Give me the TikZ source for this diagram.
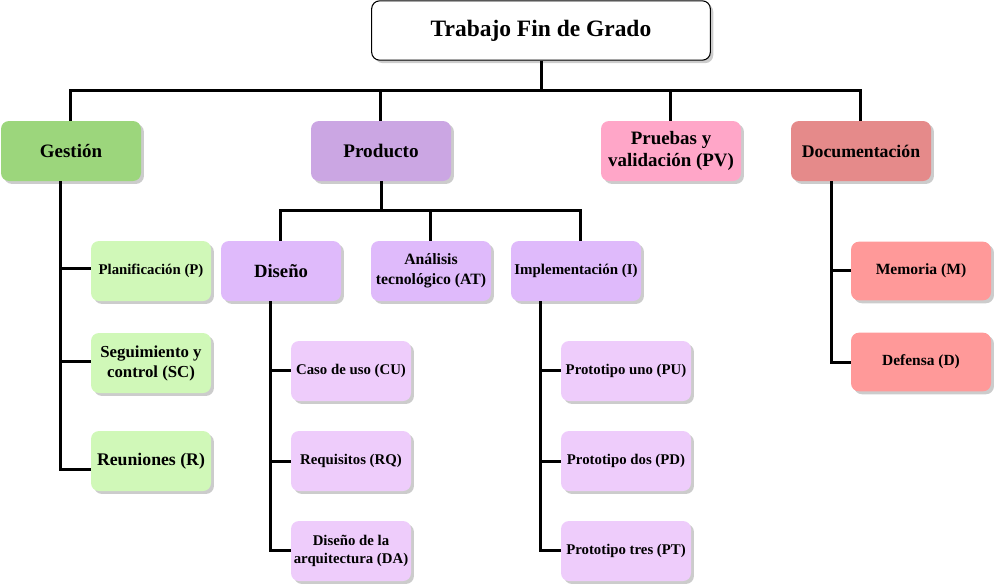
\documentclass[tikz,border=0pt]{standalone}
\usepackage{fontspec}
\setmainfont{Liberation Serif}
\usetikzlibrary{shadows}
\definecolor{cgest}{RGB}{156,214,124}
\definecolor{cprod}{RGB}{203,166,227}
\definecolor{cprue}{RGB}{255,166,200}
\definecolor{cdoc}{RGB}{229,138,138}
\definecolor{cgch}{RGB}{208,248,184}
\definecolor{cpch}{RGB}{223,186,251}
\definecolor{cpgc}{RGB}{238,204,251}
\definecolor{cdch}{RGB}{255,153,153}
\tikzset{
  box/.style={rectangle, rounded corners=6pt, draw=none, align=center,
    inner sep=1pt,
    drop shadow={shadow xshift=2.2pt, shadow yshift=-2.2pt, fill=black!20, opacity=1}},
  fs/.style 2 args={font={\bfseries\fontsize{#1}{#2}\selectfont}},
  lvla/.style={box, minimum width=105pt, minimum height=45pt},
  lvlb/.style={box, minimum width=90pt, minimum height=45pt},
  lvlc/.style={box, minimum width=97.5pt, minimum height=45pt},
  lvld/.style={box, minimum width=105pt, minimum height=44pt},
  conn/.style={draw=black, line width=2.25pt},
}
\begin{document}
\begin{tikzpicture}[x=0.75pt, y=-0.75pt]
\useasboundingbox (0,0) rectangle (994,585);
% root
\node[box, draw=black, line width=0.8pt, fill=white, minimum width=254pt, minimum height=44.5pt, fs={17.6}{20}]
  (root) at (541,30.5) {Trabajo Fin de Grado};
% level 1
\node[lvla, fill=cgest, fs={14.2}{17}] (gest) at (71,151) {Gestión};
\node[lvla, fill=cprod, fs={14.4}{17}] (prod) at (381,151) {Producto};
\node[lvla, fill=cprue, fs={14.2}{17}] (prue) at (671,151) {Pruebas y\\validación (PV)};
\node[lvla, fill=cdoc, fs={13.3}{16}] (doc) at (861,151) {Documentación};
% Gestión children
\node[lvlb, fill=cgch, fs={11.1}{13.5}] (plan) at (151,271) {Planificación (P)};
\node[lvlb, fill=cgch, fs={12.6}{15}] (segu) at (151,363) {Seguimiento y\\control (SC)};
\node[lvlb, fill=cgch, fs={13.3}{16}] (reun) at (151,461) {Reuniones (R)};
% Producto children
\node[lvlb, fill=cpch, fs={14}{17}] (dise) at (281,271) {Diseño};
\node[lvlb, fill=cpch, fs={11.8}{15}] (anal) at (431,271) {Análisis\\tecnológico (AT)};
\node[lvlc, fill=cpch, fs={11.2}{13.5}] (impl) at (576,271) {Implementación (I)};
% Diseño children
\node[lvlb, fill=cpgc, fs={11.1}{13.5}] (caso) at (351,371) {Caso de uso (CU)};
\node[lvlb, fill=cpgc, fs={11.1}{13.5}] (requ) at (351,461) {Requisitos (RQ)};
\node[lvlb, fill=cpgc, fs={11.1}{13.5}] (darq) at (351,551) {Diseño de la\\arquitectura (DA)};
% Implementación children
\node[lvlc, fill=cpgc, fs={11.1}{13.5}] (puno) at (626,371) {Prototipo uno (PU)};
\node[lvlc, fill=cpgc, fs={11.1}{13.5}] (pdos) at (626,461) {Prototipo dos (PD)};
\node[lvlc, fill=cpgc, fs={11.1}{13.5}] (ptre) at (626,551) {Prototipo tres (PT)};
% Documentación children
\node[lvld, fill=cdch, fs={11.7}{14}] (memo) at (921,271) {Memoria (M)};
\node[lvld, fill=cdch, fs={11.6}{14}] (defe) at (921,362) {Defensa (D)};
% connectors: root to level 1
\coordinate (bus) at (541,90);
\draw[conn] (root.south) -- (bus);
\draw[conn] (bus) -| ([xshift=-0.75pt]gest.north);
\draw[conn] (bus) -| ([xshift=-0.75pt]prod.north);
\draw[conn] (bus) -| ([xshift=-0.75pt]prue.north);
\draw[conn] (bus) -| ([xshift=-0.75pt]doc.north);
% Gestión
\draw[conn] ([xshift=-8.25pt]gest.south) |- ([yshift=2pt]plan.west);
\draw[conn] ([xshift=-8.25pt]gest.south) |- ([yshift=1.5pt]segu.west);
\draw[conn] ([xshift=-8.25pt]gest.south) |- ([yshift=-6.5pt]reun.west);
% Producto
\coordinate (pbus) at (381,210);
\draw[conn] (prod.south) -- (pbus);
\draw[conn] (pbus) -| ([xshift=-0.75pt]dise.north);
\draw[conn] (pbus) -| ([xshift=-0.75pt]anal.north);
\draw[conn] (pbus) -| ([xshift=3pt]impl.north);
% Diseño
\draw[conn] ([xshift=-8.25pt]dise.south) |- ([yshift=0.75pt]caso.west);
\draw[conn] ([xshift=-8.25pt]dise.south) |- (requ.west);
\draw[conn] ([xshift=-8.25pt]dise.south) |- ([yshift=0.75pt]darq.west);
% Implementación
\draw[conn] ([xshift=-27pt]impl.south) |- ([yshift=0.75pt]puno.west);
\draw[conn] ([xshift=-27pt]impl.south) |- (pdos.west);
\draw[conn] ([xshift=-27pt]impl.south) |- ([yshift=0.75pt]ptre.west);
% Documentación
\draw[conn] ([xshift=-22.5pt]doc.south) |- ([yshift=0.75pt]memo.west);
\draw[conn] ([xshift=-22.5pt]doc.south) |- (defe.west);
\end{tikzpicture}
\end{document}
